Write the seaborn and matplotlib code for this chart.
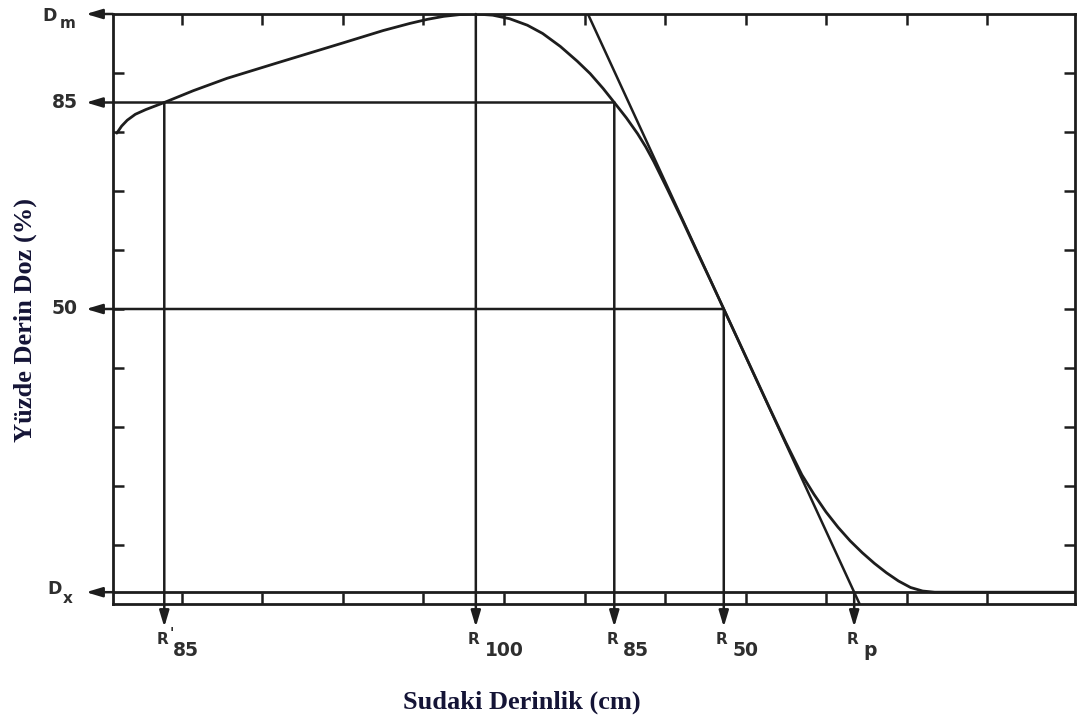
import matplotlib
matplotlib.use("Agg")
import matplotlib.pyplot as plt
import numpy as np
import pandas as pd
import seaborn as sns

# Percentage depth dose curve (depth in cm, dose in % of maximum)
depth_cm = [0.19, 0.25, 0.32, 0.42, 0.55, 0.78, 1.14, 1.56, 2.18, 3.00,
            3.50, 3.83, 4.05, 4.25, 4.45, 4.65, 4.86, 5.07, 5.29, 5.48,
            5.70, 5.91, 6.07, 6.23, 6.37, 6.52, 6.66, 6.76, 6.86, 7.03,
            7.21, 7.38, 7.56, 7.73, 7.90, 8.10, 8.30, 8.50, 8.70, 8.85,
            9.00, 9.15, 9.30, 9.45, 9.60, 9.75, 9.90, 10.05, 10.20, 10.35,
            12.09]
dose_pct = [79.8, 81.0, 82.0, 83.0, 83.8, 85.0, 87.0, 89.1, 91.7, 95.1,
            97.2, 98.4, 99.1, 99.6, 99.9, 100.0, 99.8, 99.2, 98.1, 96.7,
            94.5, 92.0, 89.9, 87.4, 85.0, 82.4, 79.7, 77.5, 75.0, 70.3,
            65.2, 60.2, 55.0, 50.0, 45.0, 39.1, 33.2, 27.4, 21.9, 18.6,
            15.6, 13.0, 10.7, 8.7, 6.9, 5.3, 3.9, 2.8, 2.2, 2.0,
            2.0]

# Characteristic depths (cm)
r85_prox = 0.78
r100 = 4.65
r85 = 6.37
r50 = 7.73
rp = 9.35

# Dose levels (%)
d_max = 100.0
d_85 = 85.0
d_50 = 50.0
d_x = 2.0

# Marker labels on the depth axis: (depth, main letter, subscript, prime)
depth_marks = [
    (r85_prox, "R", "85", True),
    (r100, "R", "100", False),
    (r85, "R", "85", False),
    (r50, "R", "50", False),
    (rp, "R", "p", False),
]

INK = "#1d1d1d"
LABEL_INK = "#141436"

sns.set_theme(style="ticks")
plt.rcParams["font.family"] = ["DejaVu Sans"]

fig = plt.figure(figsize=(10.86, 7.18), dpi=100)
ax = fig.add_axes([113 / 1086, 114 / 718, 962 / 1086, 590 / 718])

x_lo, x_hi = 0.143, 12.093
y_lo, y_hi = 0.0, 100.0
ax.set_xlim(x_lo, x_hi)
ax.set_ylim(y_lo, y_hi)

px_x = (x_hi - x_lo) / 962.0   # data units per pixel
px_y = (y_hi - y_lo) / 590.0

curve = pd.DataFrame({"depth": depth_cm, "dose": dose_pct})
sns.lineplot(data=curve, x="depth", y="dose", ax=ax, color=INK,
             linewidth=2.0, sort=False, estimator=None)

# Tangent through the 50% point and the practical range
slope = (d_x - d_50) / (rp - r50)
tan_y = np.array([y_hi, y_lo])
tan_x = r50 + (tan_y - d_50) / slope
sns.lineplot(x=tan_x, y=tan_y, ax=ax, color=INK, linewidth=1.8,
             sort=False, estimator=None)

# Bremsstrahlung background level
ax.axhline(d_x, color=INK, linewidth=2.0, zorder=3)

arrow_kw = dict(arrowstyle="-|>,head_length=0.6,head_width=0.18",
                color=INK, lw=1.8, shrinkA=0, shrinkB=0, mutation_scale=16)

# Horizontal arrows pointing to the dose scale
left_tip = x_lo - 27 * px_x
for level, x_start in [(d_max, x_lo), (d_85, r85), (d_50, r50), (d_x, x_lo)]:
    ax.annotate("", xy=(left_tip, level), xytext=(x_start, level),
                arrowprops=arrow_kw, annotation_clip=False)

# Vertical arrows pointing to the depth scale
bottom_tip = y_lo - 23 * px_y
for x_pos, level in [(r85_prox, d_85), (r100, d_max), (r85, d_85),
                     (r50, d_50), (rp, d_x)]:
    ax.annotate("", xy=(x_pos, bottom_tip), xytext=(x_pos, level),
                arrowprops=arrow_kw, annotation_clip=False)

# Dose scale labels
ytr = ax.get_yaxis_transform()
lab_kw = dict(color="#2e2e2e", fontweight="bold", va="center",
              textcoords="offset pixels", xycoords=ytr, annotation_clip=False)
for level, txt in [(d_85, "85"), (d_50, "50")]:
    ax.annotate(txt, xy=(0, level), xytext=(-35, 0), ha="right",
                fontsize=13.5, **lab_kw)
ax.annotate("D", xy=(0, d_max), xytext=(-63, -2), ha="center", fontsize=12.5, **lab_kw)
ax.annotate("m", xy=(0, d_max), xytext=(-53, -10), ha="left", fontsize=11, **lab_kw)
ax.annotate("D", xy=(0, d_x), xytext=(-58, 3), ha="center", fontsize=12.5, **lab_kw)
ax.annotate("x", xy=(0, d_x), xytext=(-50, -6), ha="left", fontsize=11, **lab_kw)

# Depth labels
xtr = ax.get_xaxis_transform()
rk = dict(color="#2e2e2e", fontweight="bold", va="center",
          textcoords="offset pixels", xycoords=xtr, annotation_clip=False)
for x_pos, main, sub, prime in depth_marks:
    ax.annotate(main, xy=(x_pos, 0), xytext=(-2, -36), ha="center",
                fontsize=11, **rk)
    ax.annotate(sub, xy=(x_pos, 0), xytext=(9, -47), ha="left",
                fontsize=13.5, **rk)
    if prime:
        ax.annotate("'", xy=(x_pos, 0), xytext=(8, -29), ha="center",
                    fontsize=10, **rk)

# Frame and ticks
for side in ["left", "right", "top", "bottom"]:
    ax.spines[side].set_visible(True)
    ax.spines[side].set_color(INK)
    ax.spines[side].set_linewidth(2.0)
ax.set_xticks(np.arange(1, 12))
ax.set_yticks(np.arange(10, 100, 10))
ax.tick_params(direction="in", length=8, width=1.8, color=INK,
               top=True, right=True, labelbottom=False, labelleft=False)
ax.set_xlabel("")
ax.set_ylabel("")
ax.grid(False)

serif = dict(family=["Liberation Serif", "DejaVu Serif"], fontweight="bold",
             color=LABEL_INK, ha="center", va="center", fontsize=19)
fig.text(522 / 1086, 1 - 702 / 718, "Sudaki Derinlik (cm)", **serif)
fig.text(25 / 1086, 1 - 320 / 718, "Yüzde Derin Doz (%)", rotation=90, **serif)

fig.savefig("out.png", dpi=100, facecolor="white")
